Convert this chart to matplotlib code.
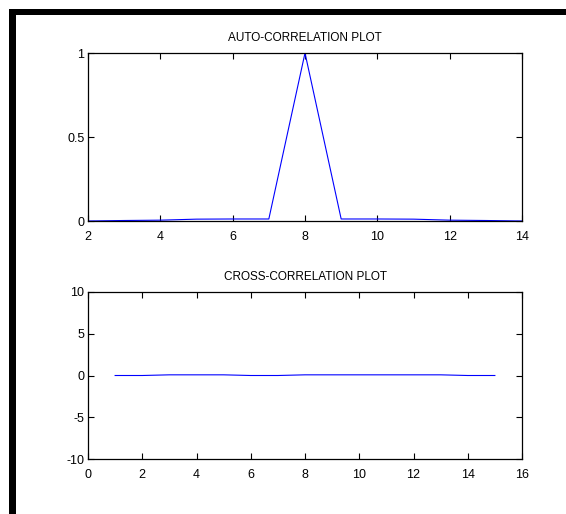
import matplotlib
matplotlib.use("Agg")
import matplotlib.pyplot as plt
from matplotlib.patches import Rectangle
import numpy as np

# donnees
lags_auto = [2, 3, 4, 5, 6, 7, 8, 9, 10, 11, 12, 13, 14]
auto_corr = [0.0, 0.003, 0.005, 0.011, 0.012, 0.012, 1.0, 0.012, 0.012, 0.011, 0.005, 0.003, 0.0]

lags_cross = [1, 2, 3, 4, 5, 6, 7, 8, 9, 10, 11, 12, 13, 14, 15]
cross_corr = [0.0, 0.0, 0.08, 0.08, 0.08, 0.0, 0.0, 0.08, 0.08, 0.08, 0.08, 0.08, 0.08, 0.0, 0.0]

auto_xticks = [2, 4, 6, 8, 10, 12, 14]
auto_yticks = [0, 0.5, 1]
cross_xticks = [0, 2, 4, 6, 8, 10, 12, 14, 16]
cross_yticks = [-10, -5, 0, 5, 10]

plt.rcParams['font.family'] = ['Liberation Sans', 'DejaVu Sans']
plt.rcParams['font.size'] = 9
plt.rcParams['axes.unicode_minus'] = False

W, H = 566, 514
fig = plt.figure(figsize=(W / 100, H / 100), dpi=100)

# bordure noire (haut et gauche)
fig.add_artist(Rectangle((9 / W, 1 - 15 / H), 1 - 9 / W, 6 / H, transform=fig.transFigure,
                         facecolor='black', edgecolor='none'))
fig.add_artist(Rectangle((9 / W, 0), 7 / W, 1 - 9 / H, transform=fig.transFigure,
                         facecolor='black', edgecolor='none'))


def style(ax):
    ax.tick_params(direction='in', top=True, right=True, length=4, width=0.8,
                   labelsize=9, colors='black')
    ax.tick_params(axis='x', pad=7)
    ax.tick_params(axis='y', pad=2.5)
    for s in ax.spines.values():
        s.set_linewidth(0.9)


# graphique 1
ax1 = fig.add_axes([88 / W, 1 - 221 / H, 434 / W, 168 / H])
ax1.plot(lags_auto, auto_corr, color=(0, 0, 1), linewidth=0.8)
ax1.set_xlim(2, 14)
ax1.set_ylim(0, 1)
ax1.set_xticks(auto_xticks)
ax1.set_yticks(auto_yticks)
ax1.set_yticklabels(['0', '0.5', '1'])
ax1.set_title("AUTO-CORRELATION PLOT", fontsize=8.5, pad=9)
style(ax1)

# graphique 2
ax2 = fig.add_axes([88 / W, 1 - 459 / H, 434 / W, 167 / H])
ax2.plot(lags_cross, cross_corr, color=(0, 0, 1), linewidth=0.8)
ax2.set_xlim(0, 16)
ax2.set_ylim(-10, 10)
ax2.set_xticks(cross_xticks)
ax2.set_yticks(cross_yticks)
ax2.set_title("CROSS-CORRELATION PLOT", fontsize=8.5, pad=9)
style(ax2)

fig.savefig("out.png", dpi=100, facecolor='white')
